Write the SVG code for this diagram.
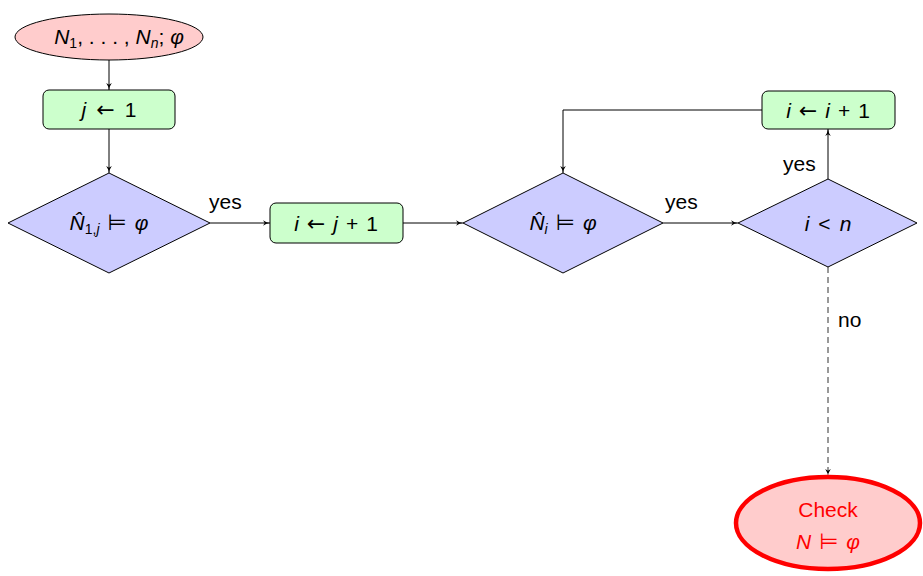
<svg xmlns="http://www.w3.org/2000/svg" width="923" height="576" viewBox="0 0 923 576">
  <defs>
    <marker id="arrow" viewBox="0 0 10 10" refX="10" refY="5" markerWidth="7" markerHeight="7" markerUnits="userSpaceOnUse" orient="auto">
      <path d="M0,1 Q5,4.5 10,5 Q5,5.5 0,9 L2.5,5 Z" fill="#000"/>
    </marker>
  </defs>
  <style>
    text { font-family: "Liberation Sans", "DejaVu Sans", sans-serif; font-size: 21px; fill: #000; }
    .m { font-style: italic; }
    .sym { font-family: "DejaVu Sans", sans-serif; font-style: normal; font-size: 22px; }
    .sub { font-size: 14px; }
    .terminal { fill: #ffcccc; stroke: #000; stroke-width: 1; }
    .process { fill: #ccffcc; stroke: #000; stroke-width: 1; }
    .decision { fill: #ccccff; stroke: #000; stroke-width: 1; }
    .edge { fill: none; stroke: #000; stroke-width: 1; marker-end: url(#arrow); }
    .dashed { stroke: #333; stroke-dasharray: 6 4; }
    .check { fill: #ffcccc; stroke: #ff0000; stroke-width: 4.5; }
    .red { fill: #ff0000; }
  </style>

  <!-- connectors -->
  <g id="edges">
    <path class="edge" d="M109,60 V90"/>
    <path class="edge" d="M109,129 V173"/>
    <path class="edge" d="M210,223 H270"/>
    <path class="edge" d="M403,223 H463"/>
    <path class="edge" d="M663,223 H738"/>
    <path class="edge" d="M828,179 V129"/>
    <path class="edge" d="M762,110 H563 V173"/>
    <path class="edge dashed" d="M828,267 V476"/>
    <text x="209" y="209">yes</text>
    <text x="665" y="209">yes</text>
    <text x="783" y="171">yes</text>
    <text x="838" y="327">no</text>
  </g>

  <!-- start -->
  <g id="start">
    <ellipse class="terminal" cx="109" cy="37" rx="94" ry="23"/>
    <text x="119" y="44" text-anchor="middle"><tspan class="m">N</tspan><tspan class="sub" dy="4">1</tspan><tspan dy="-4">, . . . , </tspan><tspan class="m">N</tspan><tspan class="sub m" dy="4">n</tspan><tspan dy="-4">; </tspan><tspan class="m">φ</tspan></text>
  </g>

  <!-- j <- 1 -->
  <g id="init-j">
    <rect class="process" x="43" y="90" width="132" height="39" rx="6"/>
    <text x="109" y="117" text-anchor="middle"><tspan class="m">j</tspan><tspan class="sym" dx="10">←</tspan><tspan dx="10">1</tspan></text>
  </g>

  <!-- N^_{1,j} |= phi -->
  <g id="test-first">
    <polygon class="decision" points="109,173 210,223 109,273 8,223"/>
    <text x="109" y="230" text-anchor="middle"><tspan class="m">N̂</tspan><tspan class="sub" dy="4">1,</tspan><tspan class="sub m">j</tspan><tspan class="sym" dy="-4" dx="8">⊨</tspan><tspan class="m" dx="8">φ</tspan></text>
  </g>

  <!-- i <- j + 1 -->
  <g id="init-i">
    <rect class="process" x="270" y="203" width="133" height="40" rx="6"/>
    <text x="336" y="231" text-anchor="middle"><tspan class="m">i</tspan><tspan class="sym" dx="8">←</tspan><tspan class="m" dx="8">j</tspan><tspan dx="8">+</tspan><tspan dx="8">1</tspan></text>
  </g>

  <!-- N^_i |= phi -->
  <g id="test-i">
    <polygon class="decision" points="563,173 663,223 563,273 463,223"/>
    <text x="563" y="230" text-anchor="middle"><tspan class="m">N̂</tspan><tspan class="sub m" dy="4">i</tspan><tspan class="sym" dy="-4" dx="8">⊨</tspan><tspan class="m" dx="8">φ</tspan></text>
  </g>

  <!-- i < n -->
  <g id="test-bound">
    <polygon class="decision" points="828,179 917,223 828,267 738,223"/>
    <text x="828" y="231" text-anchor="middle"><tspan class="m">i</tspan><tspan dx="9">&lt;</tspan><tspan class="m" dx="9">n</tspan></text>
  </g>

  <!-- i <- i + 1 -->
  <g id="step-i">
    <rect class="process" x="762" y="91" width="133" height="38" rx="6"/>
    <text x="828" y="118" text-anchor="middle"><tspan class="m">i</tspan><tspan class="sym" dx="8">←</tspan><tspan class="m" dx="8">i</tspan><tspan dx="8">+</tspan><tspan dx="8">1</tspan></text>
  </g>

  <!-- Check N |= phi -->
  <g id="check">
    <ellipse class="check" cx="828" cy="523" rx="92" ry="46"/>
    <text class="red" x="828" y="517" text-anchor="middle">Check</text>
    <text class="red" x="828" y="549" text-anchor="middle"><tspan class="m">N</tspan><tspan class="sym red" dx="8">⊨</tspan><tspan class="m" dx="8">φ</tspan></text>
  </g>
</svg>
